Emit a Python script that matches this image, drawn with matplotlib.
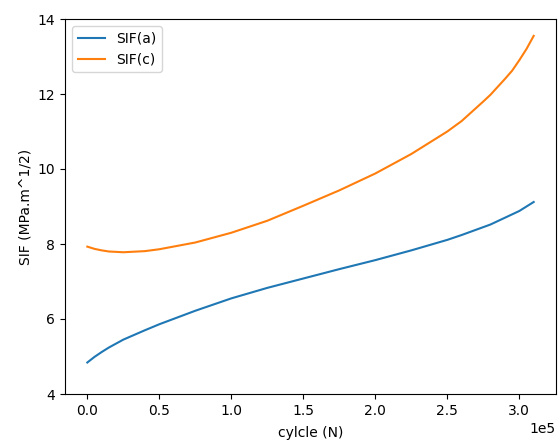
import matplotlib
matplotlib.use("Agg")
import matplotlib.pyplot as plt

cycles = [0.0, 0.05e5, 0.1e5, 0.15e5, 0.25e5, 0.4e5, 0.5e5, 0.75e5, 1.0e5, 1.25e5,
          1.5e5, 1.75e5, 2.0e5, 2.25e5, 2.5e5, 2.6e5, 2.75e5, 2.8e5, 2.9e5,
          2.95e5, 3.0e5, 3.05e5, 3.1e5]
sif_a = [4.84, 4.99, 5.12, 5.24, 5.45, 5.70, 5.86, 6.22, 6.55, 6.83,
         7.08, 7.33, 7.57, 7.83, 8.11, 8.24, 8.45, 8.52, 8.70,
         8.79, 8.88, 9.00, 9.12]
sif_c = [7.93, 7.87, 7.83, 7.80, 7.78, 7.81, 7.86, 8.04, 8.30, 8.62,
         9.02, 9.43, 9.88, 10.40, 11.00, 11.28, 11.80, 11.98, 12.40,
         12.62, 12.90, 13.20, 13.55]

fig = plt.figure(figsize=(5.58, 4.41), dpi=100)
ax = fig.add_axes([65/558, 47/441, 491/558, 375/441])
ax.plot(cycles, sif_a, label="SIF(a)")
ax.plot(cycles, sif_c, label="SIF(c)")
ax.set_ylim(4, 14)
ax.ticklabel_format(axis="x", style="sci", scilimits=(0, 0))
ax.set_xlabel("cylcle (N)", labelpad=6)
ax.set_ylabel("SIF (MPa.m^1/2)")
ax.legend(loc="upper left")
fig.savefig("out.png", dpi=100)
